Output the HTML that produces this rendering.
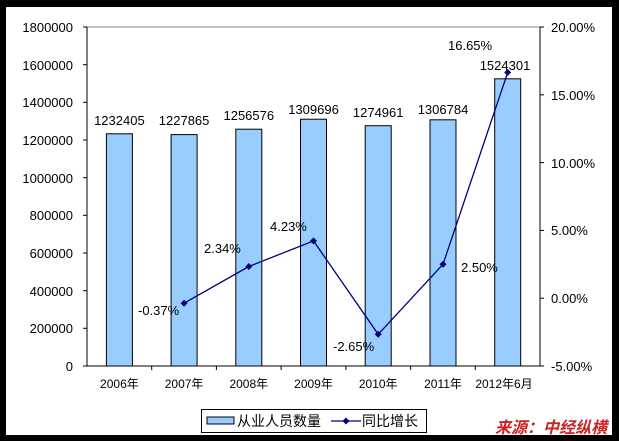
<!DOCTYPE html>
<html><head><meta charset="utf-8"><style>
body{margin:0;background:#000;}
svg{display:block;font-family:"Liberation Sans","Noto Sans CJK SC",sans-serif;}
</style></head><body>
<svg width="619" height="441" xmlns="http://www.w3.org/2000/svg">
<rect x="0" y="0" width="619" height="441" fill="#000"/>
<rect x="6" y="7" width="606" height="428" fill="#fff"/>
<line x1="87" y1="27" x2="540" y2="27" stroke="#808080"/>
<line x1="540" y1="27" x2="540" y2="366" stroke="#000"/>
<line x1="87" y1="27" x2="87" y2="366" stroke="#000"/>
<line x1="87" y1="366" x2="540" y2="366" stroke="#000"/>
<g stroke="#000">
<line x1="83" y1="27" x2="87" y2="27"/><line x1="83" y1="64.7" x2="87" y2="64.7"/><line x1="83" y1="102.3" x2="87" y2="102.3"/><line x1="83" y1="140" x2="87" y2="140"/><line x1="83" y1="177.7" x2="87" y2="177.7"/><line x1="83" y1="215.3" x2="87" y2="215.3"/><line x1="83" y1="253" x2="87" y2="253"/><line x1="83" y1="290.7" x2="87" y2="290.7"/><line x1="83" y1="328.3" x2="87" y2="328.3"/><line x1="83" y1="366" x2="87" y2="366"/>
<line x1="540" y1="27" x2="544" y2="27"/><line x1="540" y1="94.8" x2="544" y2="94.8"/><line x1="540" y1="162.6" x2="544" y2="162.6"/><line x1="540" y1="230.4" x2="544" y2="230.4"/><line x1="540" y1="298.2" x2="544" y2="298.2"/><line x1="540" y1="366" x2="544" y2="366"/>
<line x1="151.7" y1="366" x2="151.7" y2="370"/><line x1="216.4" y1="366" x2="216.4" y2="370"/><line x1="281.1" y1="366" x2="281.1" y2="370"/><line x1="345.9" y1="366" x2="345.9" y2="370"/><line x1="410.6" y1="366" x2="410.6" y2="370"/><line x1="475.3" y1="366" x2="475.3" y2="370"/>
</g>
<g font-size="13" text-anchor="end" fill="#000">
<text x="73" y="32">1800000</text><text x="73" y="70">1600000</text><text x="73" y="107">1400000</text><text x="73" y="145">1200000</text><text x="73" y="183">1000000</text><text x="73" y="220">800000</text><text x="73" y="258">600000</text><text x="73" y="296">400000</text><text x="73" y="333">200000</text><text x="73" y="371">0</text>
</g>
<g font-size="13" fill="#000">
<text x="551" y="32">20.00%</text><text x="551" y="100">15.00%</text><text x="551" y="168">10.00%</text><text x="551" y="235">5.00%</text><text x="551" y="303">0.00%</text><text x="551" y="371">-5.00%</text>
</g>
<g fill="#99ccff" stroke="#000">
<rect x="106.4" y="133.8" width="26" height="232.2"/>
<rect x="171.1" y="134.6" width="26" height="231.4"/>
<rect x="235.8" y="129.2" width="26" height="236.8"/>
<rect x="300.5" y="119.2" width="26" height="246.8"/>
<rect x="365.2" y="125.7" width="26" height="240.3"/>
<rect x="430" y="119.8" width="26" height="246.2"/>
<rect x="494.7" y="78.8" width="26" height="287.2"/>
</g>
<g font-size="13" text-anchor="middle" fill="#000">
<text x="119.4" y="125">1232405</text><text x="184.1" y="125">1227865</text><text x="248.8" y="120">1256576</text><text x="313.5" y="114">1309696</text><text x="378.2" y="117">1274961</text><text x="443" y="114">1306784</text><text x="505" y="70">1524301</text>
</g>
<polyline points="184.1,303.2 248.8,266.5 313.5,240.9 378.2,334.3 443,264.3 507.7,72.4" fill="none" stroke="#000080" stroke-width="1.3"/>
<g fill="#000080">
<path d="M184.1,299.7l3.5,3.5l-3.5,3.5l-3.5-3.5z"/><path d="M248.8,263l3.5,3.5l-3.5,3.5l-3.5-3.5z"/><path d="M313.5,237.4l3.5,3.5l-3.5,3.5l-3.5-3.5z"/><path d="M378.2,330.8l3.5,3.5l-3.5,3.5l-3.5-3.5z"/><path d="M443,260.8l3.5,3.5l-3.5,3.5l-3.5-3.5z"/><path d="M507.7,68.9l3.5,3.5l-3.5,3.5l-3.5-3.5z"/>
</g>
<g font-size="13" fill="#000">
<text x="138" y="315">-0.37%</text><text x="204" y="253">2.34%</text><text x="270" y="231">4.23%</text><text x="333" y="351">-2.65%</text><text x="461" y="272">2.50%</text><text x="448" y="50">16.65%</text>
</g>
<g font-size="12" text-anchor="middle" fill="#000">
<text x="119.4" y="388">2006年</text><text x="184.1" y="388">2007年</text><text x="248.8" y="388">2008年</text><text x="313.5" y="388">2009年</text><text x="378.2" y="388">2010年</text><text x="443" y="388">2011年</text><text x="504" y="388">2012年6月</text>
</g>
<rect x="201.5" y="409.5" width="225" height="23" fill="#fff" stroke="#000"/>
<rect x="207" y="417" width="27" height="7" fill="#99ccff" stroke="#000"/>
<text x="237" y="426" font-size="14">从业人员数量</text>
<line x1="331" y1="421" x2="361" y2="421" stroke="#000080" stroke-width="1.3"/>
<path d="M346,417.5l3.5,3.5l-3.5,3.5l-3.5-3.5z" fill="#000080"/>
<text x="362" y="426" font-size="14">同比增长</text>
<text x="495" y="433" font-size="16" font-weight="bold" fill="#cc2222" font-style="italic">来源：中经纵横</text>
</svg>
</body></html>
